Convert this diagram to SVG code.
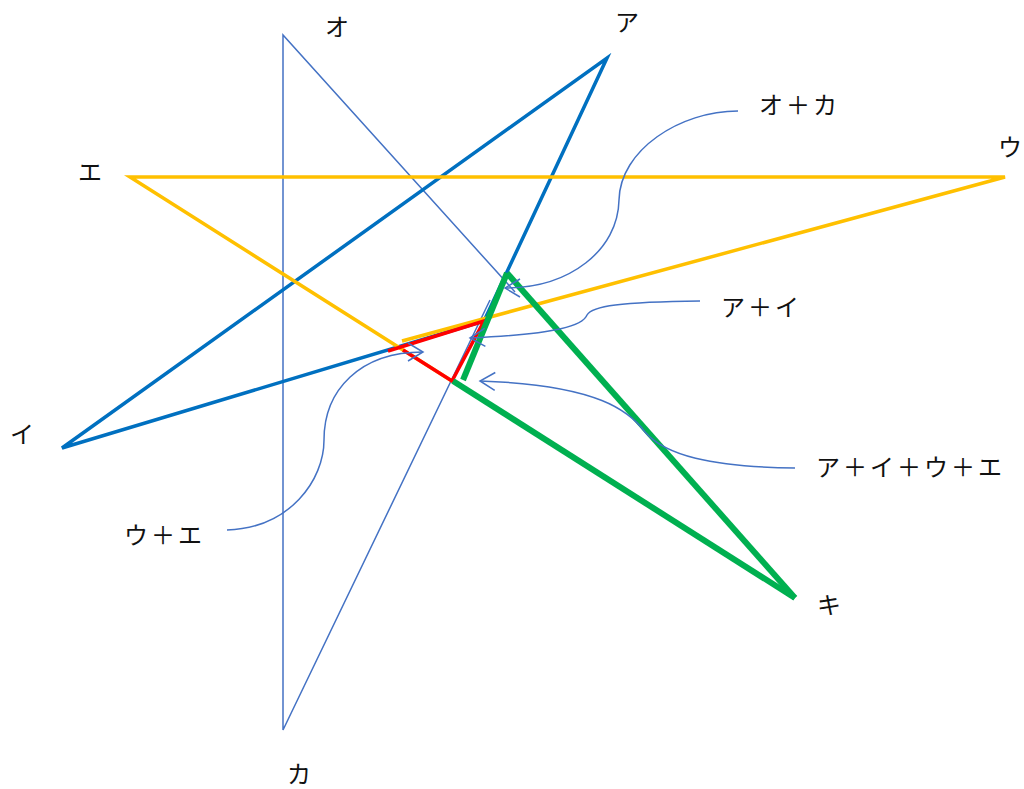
<svg xmlns="http://www.w3.org/2000/svg" width="1024" height="789" viewBox="0 0 1024 789">
<style>
.thin{fill:none;stroke:#4472C4;stroke-width:1.5}
.blue{fill:none;stroke:#0070C0;stroke-width:3.5;stroke-linejoin:miter}
.yel{fill:none;stroke:#FFC000;stroke-width:3.5}
.red{fill:none;stroke:#FF0000;stroke-width:3.5}
.grn{fill:none;stroke:#00B050;stroke-width:6}
.call{fill:none;stroke:#4472C4;stroke-width:1.5}
text{font-family:"Liberation Serif","Noto Sans CJK JP",serif;font-size:24px;fill:#111}
.lbl{letter-spacing:3px}
</style>
<defs>
<marker id="open" viewBox="-17 -11 19 22" markerWidth="19" markerHeight="22" refX="0" refY="0" orient="auto" markerUnits="userSpaceOnUse">
<path d="M-15,-9 L0,0 L-15,9" fill="none" stroke="#4472C4" stroke-width="1.5"/>
</marker>
</defs>
<rect width="1024" height="789" fill="#fff"/>
<g id="shape-okaka">
<polyline class="thin" points="515,292 283,35 283,730 490,300"/>
</g>
<g id="shape-blue">
<polyline class="blue" points="484,321 607,58 62,448 484,321"/>
</g>
<g id="shape-yellow">
<polyline class="yel" points="452,381 130,177 1005,177 402,341"/>
</g>
<g id="shape-red">
<polyline class="red" points="388,351 484,321 452,381 403,350"/>
</g>
<g id="shape-green">
<line class="grn" x1="507" y1="273" x2="463" y2="380"/>
<line class="grn" x1="507" y1="273" x2="795" y2="598"/>
<line class="grn" x1="453" y1="381" x2="795" y2="598"/>
</g>
<g id="connectors">
<path class="call" marker-end="url(#open)" d="M738,111 C680,111 620,150 619,200 C618,250 570,288 505,288"/>
<path class="call" marker-end="url(#open)" d="M700,301 C620,302 592,306 587,315 C583,325 560,334 470,338"/>
<path class="call" marker-end="url(#open)" d="M795,468 C710,467 665,455 645,432 C630,412 600,385 480,381"/>
<path class="call" marker-end="url(#open)" d="M227,530 C290,528 324,480 324,440 C324,390 360,352 423,352"/>
</g>
<g id="labels">
<text x="337" y="36" text-anchor="middle">オ</text>
<text x="627" y="31" text-anchor="middle">ア</text>
<text x="1010" y="156" text-anchor="middle">ウ</text>
<text x="90" y="181" text-anchor="middle">エ</text>
<text x="22" y="443" text-anchor="middle">イ</text>
<text x="299" y="783" text-anchor="middle">カ</text>
<text x="829" y="614" text-anchor="middle">キ</text>
<text class="lbl" x="759" y="114">オ＋カ</text>
<text class="lbl" x="721" y="316">ア＋イ</text>
<text class="lbl" x="816" y="476">ア＋イ＋ウ＋エ</text>
<text class="lbl" x="124" y="544">ウ＋エ</text>
</g>
</svg>
